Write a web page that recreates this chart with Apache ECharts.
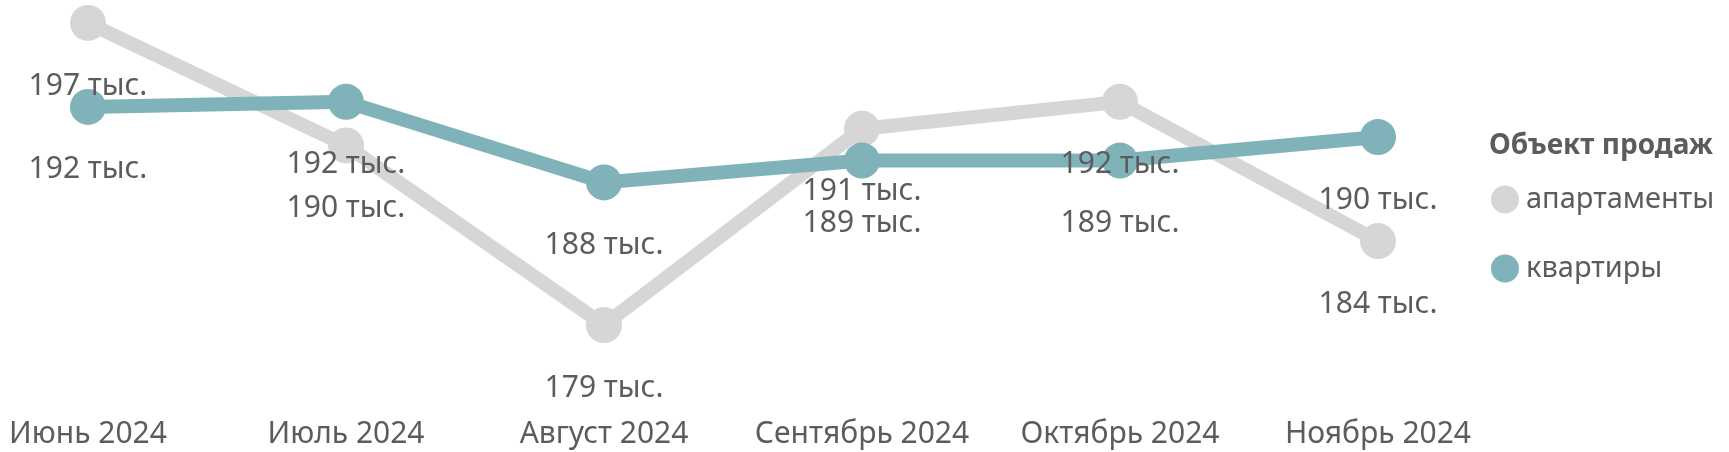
<!DOCTYPE html>
<html>
<head>
<meta charset="utf-8">
<script src="https://cdn.jsdelivr.net/npm/echarts@6/dist/echarts.min.js"></script>
<style>
  html, body { margin: 0; padding: 0; background: #fff; }
  #chart { width: 1729px; height: 452px; }
</style>
</head>
<body>
<div id="chart"></div>
<script>
// месяцы
const months = ["Июнь 2024", "Июль 2024", "Август 2024", "Сентябрь 2024", "Октябрь 2024", "Ноябрь 2024"];
// средняя цена, тыс.
const apartments = [197.0, 189.7, 179.0, 190.7, 192.3, 184.0];
const flats = [192.0, 192.3, 187.5, 188.8, 188.8, 190.2];
const seriesNames = ["апартаменты", "квартиры"];

const textColor = "#5c5c5c";
const font = "Noto Sans";

const chart = echarts.init(document.getElementById("chart"));

function lineSeries(name, data, color) {
  return {
    name: name,
    type: "line",
    data: data,
    symbol: "circle",
    symbolSize: 36,
    lineStyle: { width: 14, color: color },
    itemStyle: { color: color },
    label: {
      show: true,
      position: "bottom",
      distance: 30,
      color: textColor,
      fontFamily: font,
      fontSize: 30,
      formatter: (p) => Math.round(p.value) + " тыс.",
    },
    emphasis: { disabled: true },
  };
}

chart.setOption({
  animation: false,
  textStyle: { fontFamily: font },
  title: {
    text: "Объект продаж",
    left: 1484,
    top: 127,
    textStyle: { color: textColor, fontFamily: font, fontSize: 28, fontWeight: "bold" },
  },
  legend: {
    orient: "vertical",
    left: 1486,
    top: 180,
    icon: "circle",
    itemWidth: 28,
    itemHeight: 28,
    itemGap: 40,
    data: seriesNames,
    textStyle: { color: textColor, fontFamily: font, fontSize: 29, padding: [0, 0, 0, 2] },
  },
  grid: { left: 88, right: 351, top: 6.2, bottom: 110.2 },
  xAxis: {
    type: "category",
    data: months,
    boundaryGap: false,
    axisLine: { show: false },
    axisTick: { show: false },
    axisLabel: {
      color: textColor,
      fontFamily: font,
      fontSize: 30,
      margin: 78,
      interval: 0,
      hideOverlap: false,
    },
  },
  yAxis: {
    type: "value",
    min: 178,
    max: 198,
    show: false,
  },
  series: [
    lineSeries(seriesNames[0], apartments, "#d6d6d6"),
    lineSeries(seriesNames[1], flats, "#80b3b9"),
  ],
});
</script>
</body>
</html>
